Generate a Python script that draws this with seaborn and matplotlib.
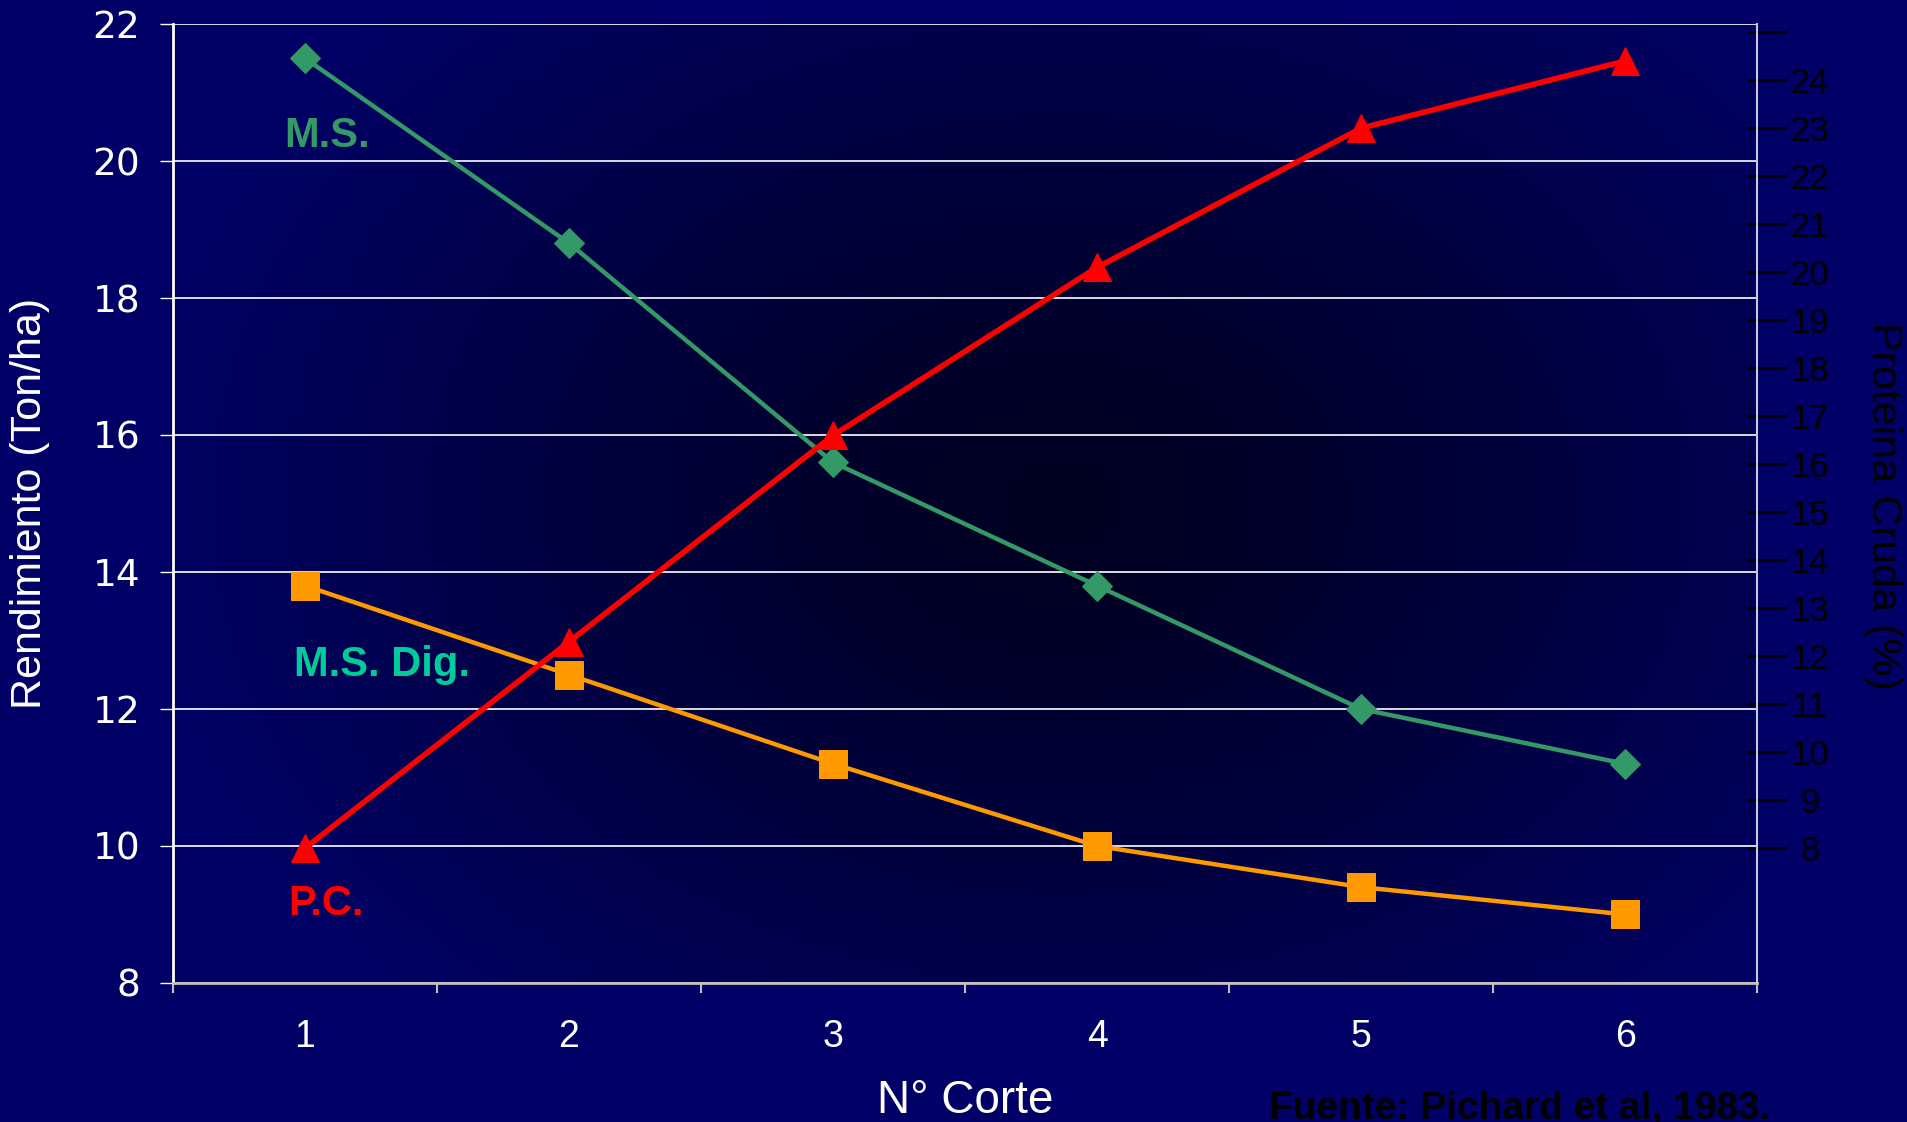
import numpy as np
import pandas as pd
import matplotlib
matplotlib.use("Agg")
import matplotlib.pyplot as plt
from matplotlib.ticker import FixedLocator, NullFormatter
import seaborn as sns

# --- Data ---
cortes = [1, 2, 3, 4, 5, 6]
ms = [21.5, 18.8, 15.6, 13.8, 12.0, 11.2]          # M.S. (Ton/ha)
ms_dig = [13.8, 12.5, 11.2, 10.0, 9.4, 9.0]        # M.S. Dig. (Ton/ha)
pc = [8.0, 12.3, 16.6, 20.1, 23.0, 24.4]           # P.C. (%)
left_ticks = [8, 10, 12, 14, 16, 18, 20, 22]
right_ticks = list(range(8, 26))
right_labels = [str(t) if t <= 24 else "" for t in right_ticks]

df = pd.DataFrame({"corte": cortes, "ms": ms, "ms_dig": ms_dig, "pc": pc})

# --- Colours ---
BG = "#000066"
GREEN = "#339966"
TEAL = "#00CC99"
ORANGE = "#FF9900"
RED = "#FF0000"

fig = plt.figure(figsize=(19.08, 11.22), dpi=100, facecolor=BG)
ax = fig.add_axes([0.0907, 0.1239, 0.8302, 0.8547])
ax.set_facecolor(BG)

# radial dark gradient in the plot area
gx, gy = np.meshgrid(np.linspace(0, 1, 400), np.linspace(0, 1, 300))
r = np.sqrt(((gx - 0.56) / 0.6) ** 2 + ((gy - 0.5) / 0.75) ** 2)
r = np.clip(r, 0, 1)
c0 = np.array([0x00, 0x00, 0x20]) / 255
c1 = np.array([0x00, 0x00, 0x66]) / 255
grad = c0[None, None, :] + (c1 - c0)[None, None, :] * r[..., None] ** 1.2
ax.imshow(grad, extent=[0, 1, 0, 1], transform=ax.transAxes, aspect="auto",
          zorder=-10, interpolation="bilinear")

# --- Lines ---
sns.lineplot(data=df, x="corte", y="ms", ax=ax, color=GREEN,
             marker="D", markersize=15, markeredgecolor=GREEN, zorder=3)
sns.lineplot(data=df, x="corte", y="ms_dig", ax=ax, color=ORANGE,
             marker="s", markersize=20, markeredgecolor=ORANGE, zorder=3)
for line in ax.lines:
    line.set_linewidth(3.2)

ax.set_xlim(0.5, 6.5)
ax.set_ylim(8, 22)

ax2 = ax.twinx()
sns.lineplot(data=df, x="corte", y="pc", ax=ax2, color=RED,
             marker="^", markersize=20, markeredgecolor=RED, zorder=4)
for line in ax2.lines:
    line.set_linewidth(4.0)
ax2.set_ylim(5.19, 25.17)
ax2.set_xlim(0.5, 6.5)

# --- Left axis ---
ax.set_yticks(left_ticks)
ax.set_yticklabels([str(t) for t in left_ticks], color="white",
                   fontsize=27, family="DejaVu Sans")
ax.tick_params(axis="y", direction="out", length=9.5, width=1,
               color="white", pad=14)
ax.grid(axis="y", color="white", lw=1.2)
ax.grid(axis="x", visible=False)
ax.set_axisbelow(True)

# --- X axis ---
ax.xaxis.set_major_locator(FixedLocator([0.5, 1.5, 2.5, 3.5, 4.5, 5.5, 6.5]))
ax.xaxis.set_major_formatter(NullFormatter())
ax.xaxis.set_minor_locator(FixedLocator(cortes))
ax.set_xticklabels([str(c) for c in cortes], minor=True, color="white",
                   fontsize=27, family="Liberation Sans")
ax.tick_params(axis="x", which="major", direction="out", length=7.5,
               width=1.5, color="#C0C0C0")
ax.tick_params(axis="x", which="minor", length=0, pad=26)

ax.spines["top"].set_visible(False)
ax2.spines["top"].set_visible(False)
ax.spines["left"].set_color("white")
ax.spines["left"].set_linewidth(2)
ax.spines["bottom"].set_color("#C0C0C0")
ax.spines["bottom"].set_linewidth(2)
ax2.spines["left"].set_visible(False)
ax2.spines["bottom"].set_visible(False)
ax.spines["right"].set_visible(False)
ax2.spines["right"].set_color("#C8C8D8")
ax2.spines["right"].set_linewidth(1.5)

# --- Right axis ---
ax2.yaxis.remove_overlapping_locs = False
ax2.set_yticks(right_ticks)
ax2.set_yticklabels(right_labels, color="black", fontsize=25,
                    family="Liberation Sans", ha="center")
ax2.yaxis.set_minor_locator(FixedLocator(right_ticks))
ax2.tick_params(axis="y", which="major", direction="out", length=21,
                width=2.2, color="black", pad=17)
ax2.tick_params(axis="y", which="minor", direction="in", length=7,
                width=2.2, color="black")

# --- Labels ---
ax.set_xlabel("N° Corte", color="white", fontsize=33,
              family="Liberation Sans")
ax.xaxis.set_label_coords(0.5, -0.123)
ax.xaxis.label.set_va("center")
ax.set_ylabel("Rendimiento (Ton/ha)", color="white", fontsize=31,
              family="Liberation Sans", fontstretch="condensed")
ax.yaxis.set_label_coords(-0.0903, 0.5)
ax.yaxis.label.set_va("center")
ax2.set_ylabel("Proteina Cruda (%)", color="black", fontsize=31,
               family="Liberation Sans", rotation=270, va="center",
               ha="center")
ax2.yaxis.set_label_coords(1.0795, 0.498)

ax.text(0.92, 20.20, "M.S.", color=GREEN, fontsize=30, fontweight="bold",
        family="Liberation Sans", va="baseline")
ax.text(0.958, 12.48, "M.S. Dig.", color=TEAL, fontsize=30,
        fontweight="bold", family="Liberation Sans", va="baseline")
ax.text(0.936, 8.99, "P.C.", color=RED, fontsize=30, fontweight="bold",
        family="Liberation Sans", va="baseline")

fig.text(0.665, 0.003, "Fuente: Pichard et al, 1983.", color="black",
         fontsize=28, fontweight="bold", family="Liberation Sans",
         va="baseline", ha="left")

fig.savefig("out.png", dpi=100, facecolor=BG)
